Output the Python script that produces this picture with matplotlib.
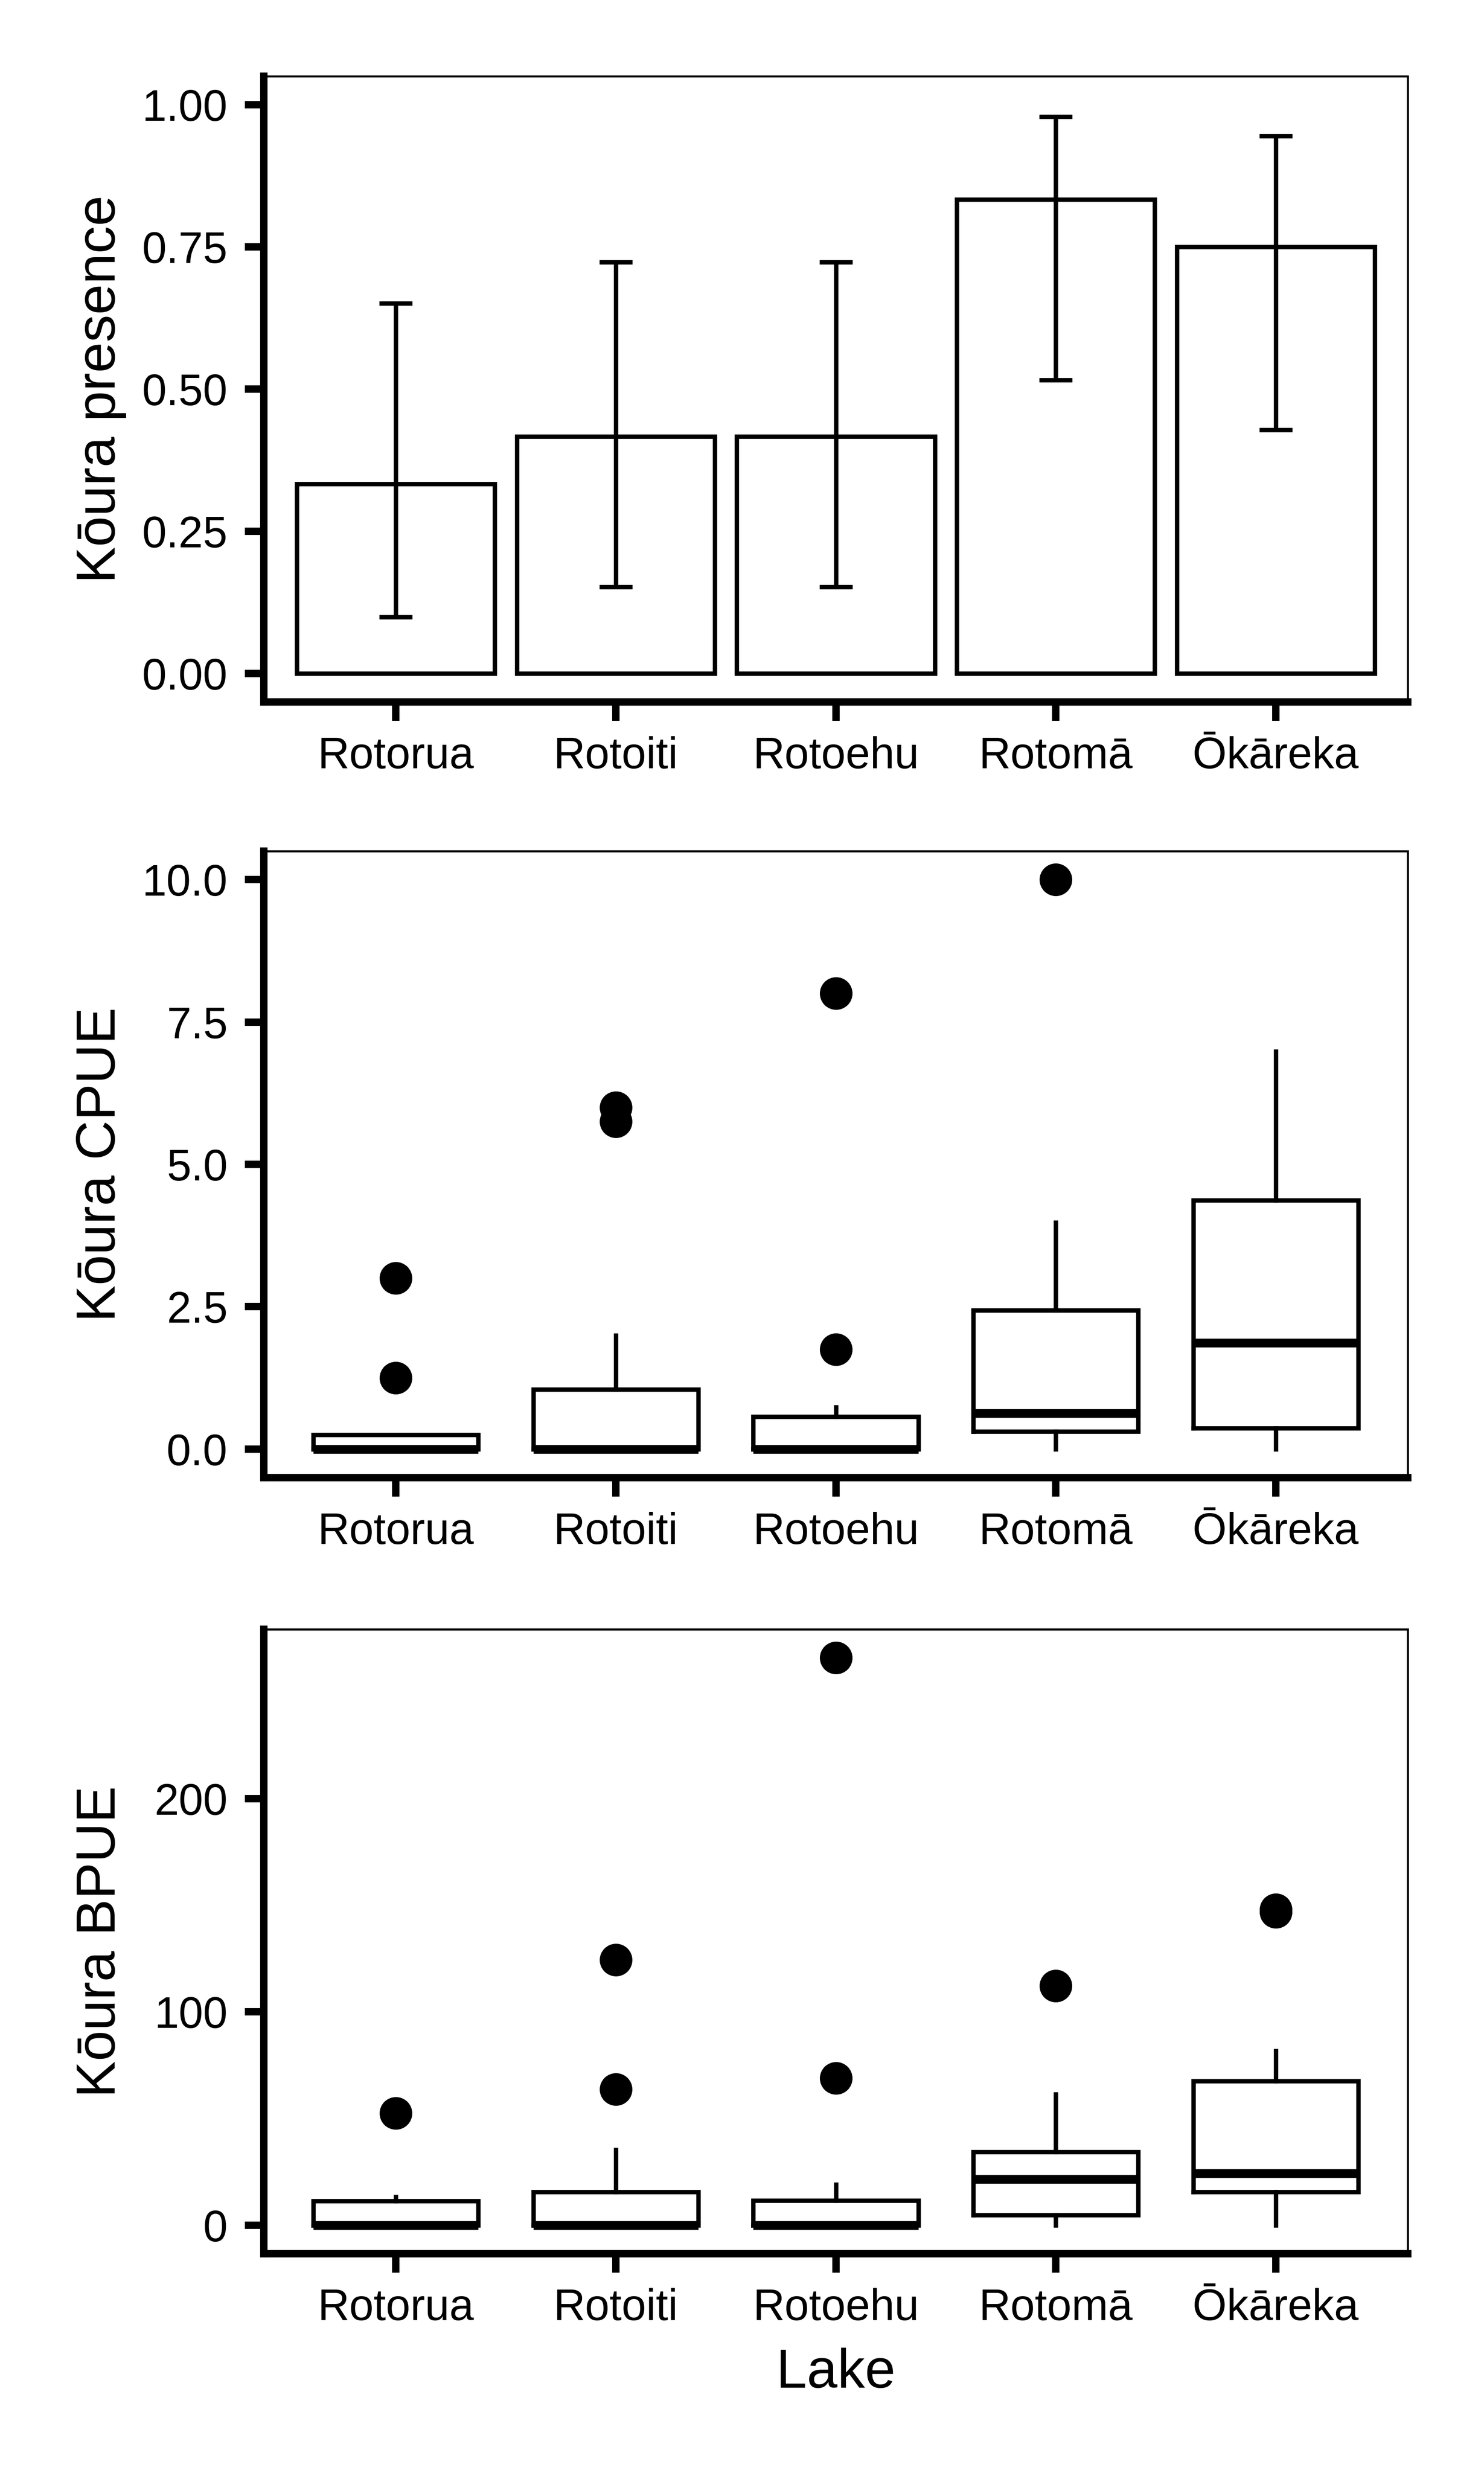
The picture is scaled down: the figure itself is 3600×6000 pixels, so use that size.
import matplotlib
matplotlib.use("Agg")
import matplotlib.pyplot as plt
from matplotlib.ticker import FormatStrFormatter

plt.rcParams['font.family'] = ['Liberation Sans', 'DejaVu Sans']
plt.rcParams['lines.solid_joinstyle'] = 'miter'

# lakes on the x axis
lakes = ["Rotorua", "Rotoiti", "Rotoehu", "Rotomā", "Ōkāreka"]

# koura presence (proportion of sites) with 95% interval
presence = [0.333, 0.417, 0.417, 0.833, 0.750]
presence_lo = [0.099, 0.152, 0.152, 0.516, 0.428]
presence_hi = [0.651, 0.723, 0.723, 0.979, 0.945]

# CPUE box summaries
cpue_q1 = [0.0, 0.0, 0.0, 0.31, 0.37]
cpue_med = [0.0, 0.0, 0.0, 0.63, 1.87]
cpue_q3 = [0.25, 1.05, 0.57, 2.44, 4.37]
cpue_wlo = [0.0, 0.0, 0.0, 0.0, 0.0]
cpue_whi = [0.25, 2.0, 0.74, 3.98, 6.98]
cpue_out = [[1.25, 3.0], [5.75, 6.0], [1.75, 8.0], [10.0], []]

# BPUE box summaries
bpue_q1 = [0.0, 0.0, 0.0, 4.9, 15.7]
bpue_med = [0.0, 0.0, 0.0, 21.7, 24.4]
bpue_q3 = [11.5, 15.6, 11.6, 34.4, 67.7]
bpue_wlo = [0.0, 0.0, 0.0, 0.0, 0.0]
bpue_whi = [13.4, 35.4, 19.1, 61.4, 81.7]
bpue_out = [[52.6], [63.8, 124.4], [68.9, 266.0], [112.2], [146.8, 147.9]]

LW = 2.56      # line width of marks
SPINE = 4.3    # thick axis lines
x = list(range(1, len(lakes) + 1))

fig = plt.figure(figsize=(12, 20), dpi=300)
left, width = 640 / 3600, 2775 / 3600
ax1 = fig.add_axes([left, 1 - 1703 / 6000, width, 1518 / 6000])
ax2 = fig.add_axes([left, 1 - 3585 / 6000, width, 1520 / 6000])
ax3 = fig.add_axes([left, 1 - 5468 / 6000, width, 1515 / 6000])


def style_axes(ax):
    for side in ['left', 'bottom']:
        ax.spines[side].set_linewidth(SPINE)
        ax.spines[side].set_capstyle('projecting')
    for side in ['top', 'right']:
        ax.spines[side].set_linewidth(1.2)
    ax.tick_params(axis='both', direction='out', length=11, width=SPINE,
                   labelsize=25.6, colors='black')
    ax.tick_params(axis='y', pad=10)
    ax.tick_params(axis='x', pad=8.9)
    ax.set_xticks(x)
    ax.set_xticklabels(lakes)
    ax.set_xlim(0.4, 5.6)


def draw_box(ax, q1, med, q3, wlo, whi, out):
    stats = []
    for i in range(len(lakes)):
        stats.append(dict(q1=q1[i], med=med[i], q3=q3[i],
                          whislo=wlo[i], whishi=whi[i], fliers=out[i]))
    ax.bxp(stats, positions=x, widths=0.75, showcaps=False,
           boxprops=dict(color='black', linewidth=LW),
           whiskerprops=dict(color='black', linewidth=LW),
           medianprops=dict(color='black', linewidth=2 * LW,
                            solid_capstyle='butt'),
           flierprops=dict(marker='o', markerfacecolor='black',
                           markeredgecolor='black', markersize=18,
                           linestyle='none'))


# presence bars
ax1.bar(x, presence, width=0.9, facecolor='white', edgecolor='black',
        linewidth=LW, zorder=2)
err = [[p - lo for p, lo in zip(presence, presence_lo)],
       [hi - p for p, hi in zip(presence, presence_hi)]]
ax1.errorbar(x, presence, yerr=err, fmt='none', ecolor='black',
             elinewidth=LW, capsize=9.6, capthick=LW, zorder=3)
style_axes(ax1)
ax1.set_ylim(-0.05, 1.05)
ax1.set_yticks([0, 0.25, 0.5, 0.75, 1.0])
ax1.yaxis.set_major_formatter(FormatStrFormatter('%.2f'))
ax1.set_ylabel("Kōura presence", fontsize=32)

# CPUE
draw_box(ax2, cpue_q1, cpue_med, cpue_q3, cpue_wlo, cpue_whi, cpue_out)
style_axes(ax2)
ax2.set_ylim(-0.5, 10.5)
ax2.set_yticks([0, 2.5, 5, 7.5, 10])
ax2.yaxis.set_major_formatter(FormatStrFormatter('%.1f'))
ax2.set_ylabel("Kōura CPUE", fontsize=32)

# BPUE
draw_box(ax3, bpue_q1, bpue_med, bpue_q3, bpue_wlo, bpue_whi, bpue_out)
style_axes(ax3)
top = 266.0
ax3.set_ylim(-0.05 * top, 1.05 * top)
ax3.set_yticks([0, 100, 200])
ax3.yaxis.set_major_formatter(FormatStrFormatter('%d'))
ax3.set_ylabel("Kōura BPUE", fontsize=32)
ax3.set_xlabel("Lake", fontsize=32, labelpad=10.8)

for ax in (ax1, ax2, ax3):
    ax.yaxis.set_label_coords(-0.12, 0.5)

fig.savefig("out.png", dpi=300)
